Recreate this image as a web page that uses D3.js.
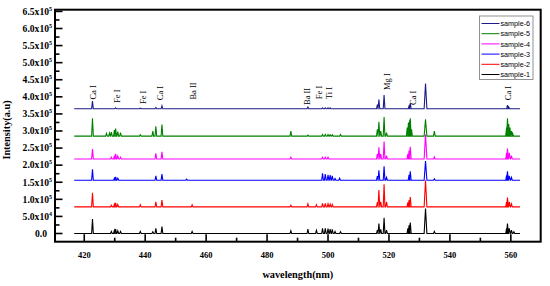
<!DOCTYPE html>
<html><head><meta charset="utf-8">
<script src="https://cdn.jsdelivr.net/npm/d3@7/dist/d3.min.js"></script>
<style>body{margin:0;background:#fff}svg{display:block}</style>
</head><body>
<svg id="c" width="550" height="286"></svg>
<script>
// ---------- data ----------
const sampleNames = ["sample-1","sample-2","sample-3","sample-4","sample-5","sample-6"];
const sampleColors = ["#000000","#ff0000","#0000ff","#ff00ff","#008000","#1c1c88"];
const sampleOffsets = [0, 0.78e5, 1.56e5, 2.18e5, 2.85e5, 3.65e5];
const specRange = [416.7, 563.0];
// peaks: [wavelength nm, height in 1e4 counts]
const peaks1 = [[422.7,4.2],[428.9,0.6],[429.9,0.9],[430.3,1.3],[431.0,0.8],[431.9,0.6],[438.4,0.6],[442.5,0.5],[443.5,1.5],[445.5,2.0],[455.4,0.6],[487.8,0.8],[493.4,1.3],[496.2,0.9],[498.2,1.5],[499.1,1.5],[500.0,1.4],[500.7,1.3],[501.4,1.2],[502.3,0.6],[504.1,0.5],[516.2,1.0],[516.7,2.9],[517.3,1.2],[518.4,4.6],[519.2,1.0],[526.2,1.5],[526.6,2.4],[527.0,3.2],[532.0,7.3],[534.9,0.6],[558.6,1.5],[558.9,2.9],[559.5,1.5],[560.2,1.0],[561.0,0.5]];
const peaks2 = [[422.7,4.1],[428.9,0.5],[429.9,0.8],[430.3,1.2],[431.0,0.7],[438.4,0.6],[443.5,1.5],[445.5,2.0],[455.4,0.6],[487.8,0.5],[493.4,0.9],[496.2,0.6],[498.2,1.0],[499.1,1.0],[500.0,0.9],[500.7,0.8],[501.4,0.7],[516.2,1.4],[516.7,4.9],[517.3,1.5],[518.4,6.6],[519.2,1.5],[526.2,1.3],[526.6,2.0],[527.0,2.9],[532.0,7.8],[558.6,1.5],[558.9,2.7],[559.5,1.5],[560.2,0.9]];
const peaks3 = [[422.7,3.2],[429.9,0.6],[430.3,1.0],[431.0,0.6],[443.5,1.3],[445.5,1.8],[453.6,0.3],[498.2,2.0],[499.1,1.8],[500.0,1.6],[500.7,1.5],[501.4,1.3],[502.3,0.5],[503.8,0.6],[516.2,1.2],[516.7,2.9],[518.4,4.1],[519.2,0.8],[526.6,1.6],[527.0,2.6],[532.0,5.6],[534.9,0.4],[558.6,1.4],[558.9,2.6],[559.5,1.3],[560.2,0.8]];
const peaks4 = [[422.7,2.9],[428.9,0.5],[429.9,1.0],[430.3,1.5],[431.0,0.9],[431.9,0.5],[443.5,1.7],[445.5,2.1],[487.8,0.5],[498.2,0.5],[499.1,0.5],[500.0,0.5],[516.2,1.5],[516.7,3.4],[517.3,1.5],[518.4,5.1],[519.2,1.0],[526.2,1.5],[526.6,2.5],[527.0,3.6],[532.0,7.2],[534.9,0.6],[558.6,1.8],[558.9,3.1],[559.5,1.8],[560.2,1.0]];
const peaks5 = [[422.7,5.2],[427.3,0.8],[428.3,0.9],[428.9,1.2],[429.9,1.8],[430.3,2.2],[431.0,1.3],[431.9,1.0],[438.4,0.4],[442.5,1.5],[443.5,2.9],[445.5,3.4],[487.8,1.5],[493.4,0.3],[498.2,0.5],[499.1,0.5],[500.0,0.5],[500.7,0.4],[501.4,0.4],[504.1,0.5],[516.2,2.0],[516.7,4.2],[517.3,1.5],[518.4,5.6],[519.2,1.0],[526.0,2.5],[526.4,4.0],[526.8,4.6],[527.0,5.2],[527.4,2.0],[532.0,4.9],[534.9,1.5],[558.6,2.5],[558.9,5.2],[559.3,3.5],[559.7,2.5],[560.2,1.5],[560.6,0.8]];
const peaks6 = [[422.7,2.25],[430.3,0.3],[438.4,0.2],[443.5,0.4],[445.5,0.9],[493.4,0.5],[498.2,0.3],[499.1,0.3],[500.0,0.3],[500.7,0.3],[516.2,1.2],[516.7,2.7],[518.4,4.0],[526.6,0.8],[527.0,1.6],[532.0,7.4],[558.9,1.1],[559.3,0.5]];
const allPeaks = [peaks1,peaks2,peaks3,peaks4,peaks5,peaks6];
// element line labels: name, wavelength, intensity where label starts
const lineNames = ["Ca I","Fe I","Fe I","Ca I","Ba II","Ba II","Fe I","Ti I","Mg I","Ca I","Ca I"];
const lineWl    = [422.9, 430.8, 439.2, 444.9, 455.8, 493.0, 497.1, 500.4, 519.5, 527.8, 559.2];
const lineAt    = [3.92e5,3.82e5,3.79e5,3.90e5,3.92e5,3.76e5,3.93e5,3.93e5,4.20e5,3.76e5,3.90e5];
const yTicks = [0,0.5e5,1e5,1.5e5,2e5,2.5e5,3e5,3.5e5,4e5,4.5e5,5e5,5.5e5,6e5,6.5e5];
const xTicks = [420,440,460,480,500,520,540,560];

// ---------- layout ----------
const svg = d3.select("#c");
const L=55, R=540.7, T=9.7, B=241.7;
const x = d3.scaleLinear().domain([410.4,569.8]).range([L,R]);
const y = d3.scaleLinear().domain([-0.24e5,6.55e5]).range([B,T]);
const serif = "'Liberation Serif','Times New Roman',serif";

// spectra
allPeaks.forEach((pk,i)=>{
  const off = sampleOffsets[i];
  const pts = [[specRange[0],0]];
  pk.slice().sort((a,b)=>a[0]-b[0]).forEach(([w,h])=>{
    const hw = w===532.0 ? 0.45 : 0.28;
    pts.push([w-hw,0],[w,h*1e4],[w+hw,0]);
  });
  pts.push([specRange[1],0]);
  svg.append("path")
    .attr("d", d3.line().x(d=>x(d[0])).y(d=>y(d[1]+off))(pts))
    .attr("fill","none").attr("stroke",sampleColors[i]).attr("stroke-width",1.1)
    .attr("stroke-linejoin","miter");
});

// line labels
lineNames.forEach((n,i)=>{
  svg.append("text")
    .attr("transform",`translate(${x(lineWl[i])},${y(lineAt[i])}) rotate(-90)`)
    .attr("dominant-baseline","central")
    .attr("font-family",serif).attr("font-size",8.5).attr("fill","#000")
    .text(n);
});

// axes ticks (inward)
const gx = svg.append("g");
d3.range(420,561,10).forEach(v=>{
  const major = v%20===0;
  gx.append("line").attr("x1",x(v)).attr("x2",x(v)).attr("y1",B).attr("y2",B-(major?7.5:4))
    .attr("stroke","#000").attr("stroke-width",1.6);
});
xTicks.forEach(v=>{
  gx.append("text").attr("x",x(v)).attr("y",B+16.5).attr("text-anchor","middle")
    .attr("font-family",serif).attr("font-weight","bold").attr("font-size",8.5).text(v);
});
const gy = svg.append("g");
d3.range(0,6.51e5,0.25e5).forEach(v=>{
  const major = Math.round(v/0.25e5)%2===0;
  gy.append("line").attr("x1",L).attr("x2",L+(major?7.5:4.5)).attr("y1",y(v)).attr("y2",y(v))
    .attr("stroke","#000").attr("stroke-width",1.6);
});
yTicks.forEach(v=>{
  const t = gy.append("text").attr("x",L-3).attr("y",y(v)+3.3).attr("text-anchor","end")
    .attr("font-family",serif).attr("font-weight","bold").attr("font-size",9.6);
  if(v===0){ t.attr("x",L-8).text("0.0"); return; }
  const e = v>=1e5 ? 5 : 4;
  const m = (v/Math.pow(10,e)).toFixed(1);
  t.append("tspan").text(m+"x10");
  t.append("tspan").attr("font-size",6).attr("dy",-4).text(e);
});

// frame
svg.append("rect").attr("x",L).attr("y",T).attr("width",R-L).attr("height",B-T)
  .attr("fill","none").attr("stroke","#000").attr("stroke-width",2);

// titles
svg.append("text").attr("x",(L+R)/2).attr("y",278).attr("text-anchor","middle")
  .attr("font-family",serif).attr("font-weight","bold").attr("font-size",10.3).text("wavelength(nm)");
svg.append("text").attr("transform",`translate(10,130) rotate(-90)`).attr("text-anchor","middle")
  .attr("font-family",serif).attr("font-weight","bold").attr("font-size",10.3).text("Intensity(a.u)");

// legend
const lg = svg.append("g");
lg.append("rect").attr("x",479.5).attr("y",16).attr("width",53.5).attr("height",63.5)
  .attr("fill","#fff").attr("stroke","#777").attr("stroke-width",0.8);
sampleNames.slice().reverse().forEach((n,k)=>{
  const i = sampleNames.length-1-k;
  const yy = 23.5 + k*10.2;
  lg.append("line").attr("x1",481.5).attr("x2",499.5).attr("y1",yy).attr("y2",yy)
    .attr("stroke",sampleColors[i]).attr("stroke-width",1);
  lg.append("text").attr("x",500.5).attr("y",yy+2.6)
    .attr("font-family","'Liberation Sans',Arial,sans-serif").attr("font-size",7.2).text(n);
});
</script>
</body></html>
